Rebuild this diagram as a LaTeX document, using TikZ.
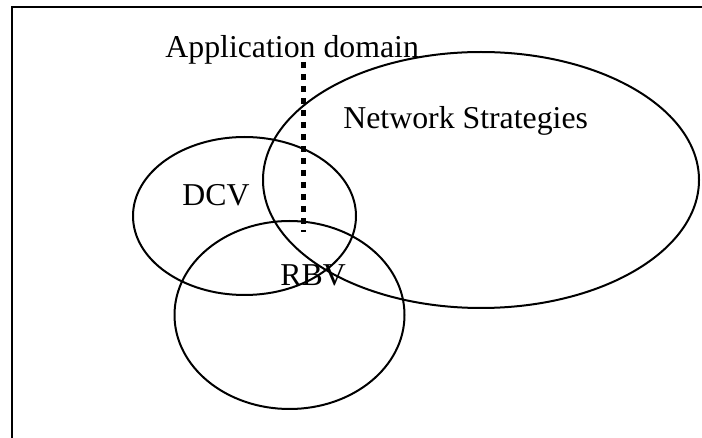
\documentclass[tikz,border=0pt]{standalone}
\usepackage{fontspec}
\setmainfont{Liberation Serif}

\begin{document}
\begin{tikzpicture}[x=0.5pt,y=-0.5pt,
  set/.style={line width=1pt},
  lbl/.style={font=\fontsize{15.9}{19}\selectfont,inner sep=0pt,anchor=base west}]
\useasboundingbox (0,0) rectangle (702,438);
\draw[line width=1.2pt] (12,438) -- (12,7) -- (702,7);
\draw[set] (481,180) ellipse [x radius=218,y radius=128];
\draw[set] (244.5,216) ellipse [x radius=111.5,y radius=79];
\draw[set] (289.5,315) ellipse [x radius=115,y radius=94];
\node[lbl] (app) at (165,58) {Application domain};
\node[lbl] (net) at (343,129) {Network Strategies};
\node[lbl] (dcv) at (182,206) {DCV};
\node[lbl] (rbv) at (280,286) {RBV};
\coordinate (domtop) at (303,62);
\coordinate (dombot) at (303,232);
\draw[line width=2.5pt,dash pattern=on 3pt off 3pt] (domtop) -- (dombot);
\end{tikzpicture}
\end{document}
